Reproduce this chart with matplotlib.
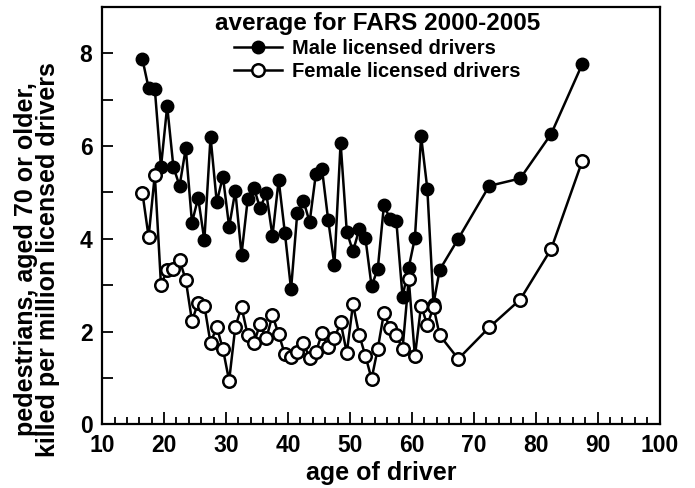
import matplotlib
matplotlib.use("Agg")
import matplotlib.pyplot as plt
from matplotlib.ticker import MultipleLocator, FuncFormatter

plt.rcParams['font.family'] = ['Liberation Sans', 'DejaVu Sans']
plt.rcParams['font.weight'] = 'bold'

# single-year ages plotted at mid-year, then 5-year groups
single_ages = [a + 0.5 for a in range(16, 65)]
group_ages = [67.5, 72.5, 77.5, 82.5, 87.5]
ages = single_ages + group_ages

male = [7.87, 7.25, 7.23, 5.55, 6.86, 5.55, 5.14, 5.95, 4.35, 4.88,
        3.97, 6.20, 4.79, 5.34, 4.26, 5.03, 3.66, 4.85, 5.10, 4.66,
        4.98, 4.06, 5.27, 4.13, 2.91, 4.55, 4.82, 4.36, 5.39, 5.50,
        4.40, 3.44, 6.07, 4.15, 3.73, 4.20, 4.02, 2.98, 3.35, 4.73,
        4.42, 4.38, 2.75, 3.38, 4.02, 6.21, 5.08, 2.60, 3.33,
        4.00, 5.14, 5.30, 6.26, 7.76]

female = [4.99, 4.04, 5.38, 3.00, 3.33, 3.34, 3.54, 3.11, 2.23, 2.62,
          2.56, 1.75, 2.10, 1.62, 0.94, 2.10, 2.53, 1.92, 1.75, 2.16,
          1.85, 2.35, 1.94, 1.51, 1.46, 1.56, 1.76, 1.42, 1.56, 1.96,
          1.67, 1.85, 2.20, 1.54, 2.59, 1.93, 1.48, 0.98, 1.63, 2.40,
          2.07, 1.92, 1.62, 3.13, 1.47, 2.56, 2.14, 2.53, 1.92,
          1.41, 2.09, 2.69, 3.78, 5.67]

fig = plt.figure(figsize=(6.95, 4.88), dpi=100)
ax = fig.add_axes([0.147, 0.1305, 0.802, 0.8555])

ax.plot(ages, male, color='black', lw=1.8, marker='o', markersize=9,
        markerfacecolor='black', markeredgecolor='black',
        label='Male licensed drivers')
ax.plot(ages, female, color='black', lw=1.8, marker='o', markersize=9,
        markerfacecolor='white', markeredgecolor='black', markeredgewidth=1.8,
        label='Female licensed drivers')

ax.set_xlim(10, 100)
ax.set_ylim(0, 9)
ax.xaxis.set_major_locator(MultipleLocator(10))
ax.xaxis.set_minor_locator(MultipleLocator(2))
ax.yaxis.set_major_locator(MultipleLocator(2))
ax.yaxis.set_minor_locator(MultipleLocator(1))
ax.yaxis.set_major_formatter(FuncFormatter(lambda v, p: f"{v:.0f}" if v < 9 else ""))

ax.tick_params(which='both', direction='in', top=False, right=False,
               width=1.3, labelsize=16.5)
ax.tick_params(axis='x', which='major', length=9, pad=7)
ax.tick_params(axis='x', which='minor', length=5)
ax.tick_params(axis='y', which='both', length=8, pad=7)
for s in ax.spines.values():
    s.set_linewidth(1.6)

ax.set_xlabel('age of driver', fontsize=18, fontweight='bold', labelpad=3)
ax.set_ylabel('pedestrians, aged 70 or older,\nkilled per million licensed drivers',
              fontsize=18, fontweight='bold', linespacing=0.9)
ax.yaxis.set_label_coords(-0.076, 0.395)

leg = ax.legend(loc='upper center', bbox_to_anchor=(0.494, 1.022), frameon=False,
                title='average for FARS 2000-2005', handlelength=2.4,
                handletextpad=0.5, labelspacing=0.2, borderpad=0.2,
                prop={'size': 14.5, 'weight': 'bold'},
                title_fontproperties={'size': 17.5, 'weight': 'bold'})

fig.savefig('out.png', dpi=100)
